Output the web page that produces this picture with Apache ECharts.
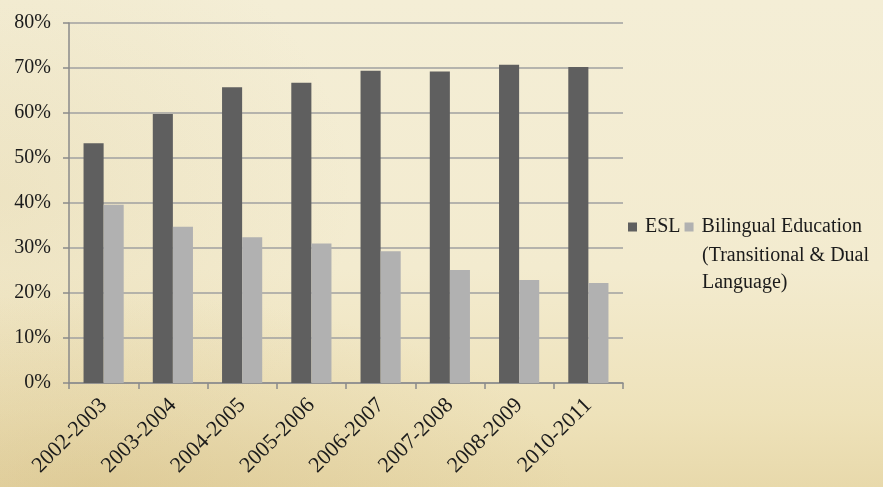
<!DOCTYPE html>
<html>
<head>
<meta charset="utf-8">
<title>ESL vs Bilingual Education</title>
<script src="https://cdn.jsdelivr.net/npm/echarts@6/dist/echarts.min.js"></script>
<style>
  html, body { margin: 0; padding: 0; }
  body {
    width: 883px; height: 487px; overflow: hidden;
    background:
      radial-gradient(ellipse 55% 40% at 10% 100%, rgba(200, 172, 108, 0.30), rgba(200, 172, 108, 0) 100%),
      radial-gradient(ellipse 40% 60% at 0% 40%, rgba(210, 190, 130, 0.18), rgba(210, 190, 130, 0) 100%),
      linear-gradient(to bottom, #f4eed6 0%, #f3ebcf 55%, #eee2ba 85%, #e8d9ab 100%);
  }
  #chart { width: 883px; height: 487px; }
</style>
</head>
<body>
<div id="chart"></div>
<script>
// School years on the category axis
const years = ['2002-2003', '2003-2004', '2004-2005', '2005-2006',
               '2006-2007', '2007-2008', '2008-2009', '2010-2011'];

// Share of English learners in each program type (percent)
const eslShare = [53.3, 59.8, 65.7, 66.7, 69.4, 69.2, 70.7, 70.2];
const bilingualShare = [39.6, 34.7, 32.4, 31.0, 29.3, 25.1, 22.9, 22.2];

// Value-axis ticks (percent)
const yTicks = [0, 10, 20, 30, 40, 50, 60, 70, 80];

const FONT = '"Liberation Serif", "DejaVu Serif", serif';
const TEXT = '#1b1b1b';

const chart = echarts.init(document.getElementById('chart'), null, { renderer: 'canvas' });

chart.setOption({
  backgroundColor: 'transparent',
  animation: false,
  textStyle: { fontFamily: FONT },
  grid: { left: 69, right: 260, top: 23, bottom: 104, containLabel: false },
  legend: {
    left: 628,
    top: 217,
    padding: 0,
    itemWidth: 9,
    itemHeight: 9,
    itemGap: 4,
    icon: 'rect',
    data: ['ESL', 'Bilingual Education'],
    textStyle: { fontFamily: FONT, fontSize: 20, color: TEXT, lineHeight: 20, padding: [0, 0, 0, 3] }
  },
  graphic: [
    {
      type: 'text', left: 702, top: 246,
      style: { text: '(Transitional & Dual', font: '20px ' + FONT, fill: TEXT }
    },
    {
      type: 'text', left: 702, top: 273,
      style: { text: 'Language)', font: '20px ' + FONT, fill: TEXT }
    }
  ],
  xAxis: {
    type: 'category',
    data: years,
    boundaryGap: true,
    axisLine: { show: true, lineStyle: { color: '#8a8a8a', width: 1.5 } },
    axisTick: { show: true, length: 6, alignWithLabel: false, lineStyle: { color: '#8a8a8a', width: 1.5 } },
    axisLabel: { rotate: 45, margin: 19, fontSize: 22, fontFamily: FONT, color: TEXT, interval: 0 }
  },
  yAxis: {
    type: 'value',
    min: yTicks[0],
    max: yTicks[yTicks.length - 1],
    interval: yTicks[1] - yTicks[0],
    axisLine: { show: true, lineStyle: { color: '#8a8a8a', width: 1.5 } },
    axisTick: { show: true, length: 6, lineStyle: { color: '#8a8a8a', width: 1.5 } },
    splitLine: { show: true, lineStyle: { color: '#a0a0a0', width: 1.5 } },
    axisLabel: { margin: 18, fontSize: 20, fontFamily: FONT, color: TEXT, formatter: v => v + '%' }
  },
  series: [
    {
      name: 'ESL',
      type: 'bar',
      data: eslShare,
      barGap: '0%',
      barCategoryGap: '42%',
      itemStyle: { color: '#5f5f5f' }
    },
    {
      name: 'Bilingual Education',
      type: 'bar',
      data: bilingualShare,
      barGap: '0%',
      barCategoryGap: '42%',
      itemStyle: { color: '#b1b1b1' }
    }
  ]
});
</script>
</body>
</html>
